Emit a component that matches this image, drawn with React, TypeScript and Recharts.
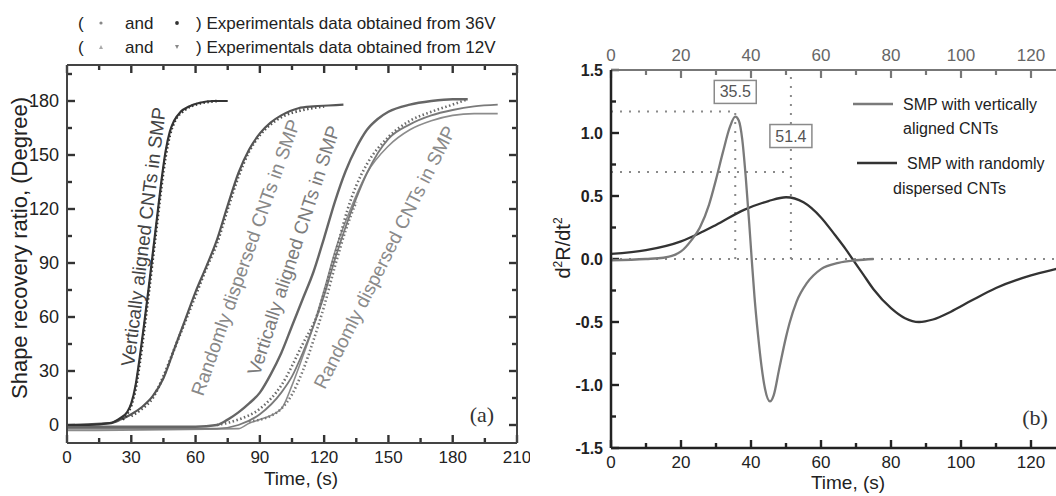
import React from 'react'
import { LineChart, Line, XAxis, YAxis, ReferenceLine, ReferenceDot } from 'recharts'

const SANS = '"Liberation Sans", Arial, sans-serif'
const SERIF = '"Liberation Serif", "Times New Roman", serif'

// ---------- panel (a): shape recovery ratio vs time ----------
const aXTicks = [0, 30, 60, 90, 120, 150, 180, 210]
const aXMinor = [15, 45, 75, 105, 135, 165, 195]
const aYTicks = [0, 30, 60, 90, 120, 150, 180]
const aYMinor = [15, 45, 75, 105, 135, 165, 195]

// vertically aligned CNTs, 36V
const va36Time = [0, 10, 20, 25, 28, 30, 32, 34, 36, 38, 40, 42, 44, 46, 48, 50, 53, 57, 62, 68, 75]
const va36Fit = [0, 0, 1, 4, 7, 12, 22, 38, 56, 75, 95, 115, 135, 152, 163, 169, 174, 177, 179, 180, 180]
const va36ExpTime = [26, 28, 30, 32, 34, 36, 38, 40, 42, 44, 46, 48, 50, 55, 60, 70]
const va36Exp = [3, 6, 11, 20, 35, 53, 72, 92, 112, 132, 149, 161, 168, 175, 178, 180]

// randomly dispersed CNTs, 36V
const rd36Time = [0, 20, 25, 30, 35, 40, 45, 50, 55, 60, 65, 70, 75, 80, 85, 90, 95, 100, 108, 115, 122, 129]
const rd36Fit = [0, 1, 3, 6, 10, 16, 26, 42, 58, 74, 88, 103, 122, 140, 153, 162, 168, 172, 176, 177, 177.5, 178]
const rd36ExpTime = [30, 35, 40, 45, 50, 55, 60, 65, 70, 75, 80, 85, 90, 95, 100, 110, 120]
const rd36Exp = [5, 9, 15, 27, 42, 57, 72, 87, 101, 120, 138, 152, 161, 167, 171, 175, 177]

// vertically aligned CNTs, 12V
const va12Time = [0, 60, 70, 75, 80, 85, 90, 95, 100, 105, 110, 115, 120, 125, 130, 135, 140, 145, 150, 160, 170, 180, 187]
const va12Fit = [-1, -1, 0, 3, 7, 12, 18, 28, 40, 55, 70, 85, 104, 124, 141, 154, 164, 170, 174, 178, 180, 181, 181]
const va12ExpTime = [70, 80, 90, 100, 110, 117, 122, 127, 131, 135, 140, 150, 160, 170, 180, 187]
const va12Exp = [0, 3, 9, 22, 45, 62, 82, 103, 120, 133, 145, 160, 169, 174, 178, 181]

// randomly dispersed CNTs, 12V (two runs)
const rd12aTime = [0, 70, 80, 90, 100, 105, 110, 115, 120, 125, 130, 135, 140, 145, 150, 160, 170, 180, 190, 201]
const rd12aFit = [-2, -2, 0, 6, 18, 27, 40, 55, 72, 92, 110, 126, 140, 151, 159, 167, 172, 175, 177, 178]
const rd12bTime = [0, 80, 85, 90, 100, 105, 110, 115, 120, 126, 132, 140, 150, 160, 170, 180, 190, 201]
const rd12bFit = [-3, -2, 1, 3, 9, 22, 38, 55, 75, 100, 119, 140, 155, 164, 169, 172, 173, 173]
const rd12ExpTime = [85, 95, 100, 105, 110, 115, 120, 125, 130, 135]
const rd12Exp = [2, 5, 9, 17, 30, 47, 66, 88, 108, 124]

// ---------- panel (b): second derivative ----------
const bXTicks = [0, 20, 40, 60, 80, 100, 120]
const bXMinor = [10, 30, 50, 70, 90, 110, 130]
const bYTicks = [-1.5, -1.0, -0.5, 0, 0.5, 1.0, 1.5]
const bYMinor = [-1.25, -0.75, -0.25, 0.25, 0.75, 1.25]

const vaTime = [0, 10, 15, 20, 23, 25.4, 28, 30, 32, 34, 35.5, 36.5, 37.5, 38.5, 39.5, 40.2, 41, 42, 43, 44, 45.4, 46.5, 48, 50, 51, 53, 56, 60, 65, 70, 75]
const vaD2 = [-0.01, 0, 0.01, 0.06, 0.15, 0.25, 0.43, 0.63, 0.85, 1.05, 1.13, 1.1, 0.95, 0.65, 0.28, 0, -0.3, -0.6, -0.85, -1.03, -1.13, -1.08, -0.88, -0.62, -0.51, -0.34, -0.19, -0.08, -0.03, -0.01, 0]
const rdTime = [0, 10, 20, 25, 30, 38, 45, 50, 55, 60, 64, 67, 69, 72, 75, 80, 84, 88, 92, 97, 103, 110, 120, 127, 130]
const rdD2 = [0.04, 0.07, 0.14, 0.2, 0.27, 0.39, 0.46, 0.49, 0.45, 0.33, 0.19, 0.08, 0, -0.12, -0.24, -0.39, -0.47, -0.5, -0.48, -0.42, -0.33, -0.23, -0.13, -0.08, -0.06]

const peakTimes = [35.5, 51.4]
const peakLevels = [1.17, 0.69]
const peakLabelY = [1.33, 0.98]

const pts = (ts: number[], vs: number[]) => ts.map((t, i) => ({ t, v: vs[i] }))

// label-only tick renderer
const makeLabel = (side: string, text: any, fmt?: (v: number) => string) => (p: any) => {
  const v = p.payload.value as number
  const txt = fmt ? fmt(v) : String(v)
  if (side === 'bottom') return <text x={p.x} y={p.y} dy="0.71em" textAnchor="middle" {...text}>{txt}</text>
  if (side === 'top') return <text x={p.x} y={p.y} textAnchor="middle" {...text}>{txt}</text>
  return <text x={p.x} y={p.y} dy="0.35em" textAnchor="end" {...text}>{txt}</text>
}

// inward tick marks as short reference segments; lengths converted from px to data units
type Seg = { key: string; seg: { x: number; y: number }[] }
const tickSegs = (
  xMaj: number[], xMin: number[], yMaj: number[], yMin: number[],
  xDom: number[], yDom: number[], plotW: number, plotH: number, sides: string[],
): Seg[] => {
  const ux = (xDom[1] - xDom[0]) / plotW
  const uy = (yDom[1] - yDom[0]) / plotH
  const out: Seg[] = []
  const xs = [...xMaj.map((t) => [t, 8]), ...xMin.map((t) => [t, 5])]
  const ys = [...yMaj.map((v) => [v, 8]), ...yMin.map((v) => [v, 5])]
  xs.forEach(([t, len]) => {
    if (sides.includes('bottom')) out.push({ key: `b${t}`, seg: [{ x: t, y: yDom[0] }, { x: t, y: yDom[0] + len * uy }] })
    if (sides.includes('top')) out.push({ key: `t${t}`, seg: [{ x: t, y: yDom[1] }, { x: t, y: yDom[1] - len * uy }] })
  })
  ys.forEach(([v, len]) => {
    if (sides.includes('left')) out.push({ key: `l${v}`, seg: [{ x: xDom[0], y: v }, { x: xDom[0] + len * ux, y: v }] })
    if (sides.includes('right')) out.push({ key: `r${v}`, seg: [{ x: xDom[1], y: v }, { x: xDom[1] - len * ux, y: v }] })
  })
  return out
}

function PanelA() {
  const ax = { xAxisId: 'x', yAxisId: 'y' }
  const dots = { type: 'monotone' as const, dot: false, isAnimationActive: false, dataKey: 'v', ...ax }
  const border = { stroke: '#444', strokeWidth: 2 }
  const lab = { fill: '#222', fontSize: 17, fontFamily: SANS }
  const xDom = [0, 210]
  const yDom = [-10, 200]
  const xs = { type: 'number' as const, dataKey: 't', domain: xDom, interval: 0 as const, allowDataOverflow: true, ticks: aXTicks, tickLine: false, axisLine: border }
  const ys = { type: 'number' as const, domain: yDom, interval: 0 as const, allowDataOverflow: true, ticks: aYTicks, tickLine: false, axisLine: border }
  const segs = tickSegs(aXTicks, aXMinor, aYTicks, aYMinor, xDom, yDom, 450, 378, ['bottom', 'top', 'left', 'right'])
  return (
    <LineChart width={530} height={496} margin={{ top: 65, right: 13, bottom: 3, left: 0 }} data={pts(va36Time, va36Fit)}>
      <XAxis xAxisId="x" {...xs} height={50} tickSize={0} tickMargin={8} tick={makeLabel('bottom', lab)} />
      <XAxis xAxisId="xt" {...xs} mirror orientation="top" tickSize={0} tickMargin={0} tick={false} />
      <YAxis yAxisId="y" {...ys} width={67} tickSize={0} tickMargin={8} tick={makeLabel('left', { ...lab, fontSize: 18 })} />
      <YAxis yAxisId="yr" {...ys} mirror orientation="right" tickSize={0} tickMargin={0} tick={false} />

      {segs.map((s) => (
        <ReferenceLine key={s.key} {...ax} segment={s.seg} stroke="#333" strokeWidth={2.4} />
      ))}

      <Line {...dots} data={pts(rd12bTime, rd12bFit)} stroke="#8c8c8c" strokeWidth={1.6} />
      <Line {...dots} data={pts(rd12aTime, rd12aFit)} stroke="#7a7a7a" strokeWidth={1.8} />
      <Line {...dots} data={pts(rd12ExpTime, rd12Exp)} stroke="#777" strokeWidth={2.6} strokeDasharray="1.5 2.5" />
      <Line {...dots} data={pts(va12ExpTime, va12Exp)} stroke="#6a6a6a" strokeWidth={2.6} strokeDasharray="1.5 2.5" />
      <Line {...dots} data={pts(va12Time, va12Fit)} stroke="#666" strokeWidth={2.4} />
      <Line {...dots} data={pts(rd36ExpTime, rd36Exp)} stroke="#555" strokeWidth={2.8} strokeDasharray="1.5 2.5" />
      <Line {...dots} data={pts(rd36Time, rd36Fit)} stroke="#555" strokeWidth={2.2} />
      <Line {...dots} data={pts(va36ExpTime, va36Exp)} stroke="#333" strokeWidth={2.8} strokeDasharray="1.5 2.5" />
      <Line {...dots} data={pts(va36Time, va36Fit)} stroke="#333" strokeWidth={2.2} />
    </LineChart>
  )
}

function PanelB() {
  const ax = { xAxisId: 'x', yAxisId: 'y' }
  const dark = { stroke: '#222', strokeWidth: 2.5 }
  const dotted = { stroke: '#8a8a8a', strokeWidth: 2, strokeDasharray: '2 7' }
  const lab = { fill: '#222', fontSize: 17, fontFamily: SANS }
  const xDom = [0, 130]
  const yDom = [-1.5, 1.5]
  const xs = { type: 'number' as const, dataKey: 't', domain: xDom, interval: 0 as const, allowDataOverflow: true, ticks: bXTicks, tickLine: false }
  const segsDark = tickSegs(bXTicks, bXMinor, bYTicks, bYMinor, xDom, yDom, 455, 378, ['bottom', 'left'])
  const segsGray = tickSegs(bXTicks, bXMinor, [], [], xDom, yDom, 455, 378, ['top'])
  const box = (label: string) => (p: any) => (
    <g>
      <rect x={p.cx - 21} y={p.cy - 11} width={42} height={23} fill="#fff" stroke="#8a8a8a" strokeWidth={1.5} />
      <text x={p.cx} y={p.cy + 6} textAnchor="middle" fontSize={16} fill="#555" fontFamily={SANS}>{label}</text>
    </g>
  )
  return (
    <LineChart width={546} height={496} margin={{ top: 50, right: 10, bottom: 3, left: 0 }} data={pts(rdTime, rdD2)}>
      <XAxis xAxisId="x" {...xs} height={45} tickSize={0} tickMargin={8} axisLine={dark} tick={makeLabel('bottom', lab)} />
      <XAxis xAxisId="xt" {...xs} orientation="top" height={20} tickSize={0} tickMargin={9}
        axisLine={{ stroke: '#777', strokeWidth: 2 }} tick={makeLabel('top', { ...lab, fill: '#666' })} />
      <YAxis yAxisId="y" type="number" domain={yDom} allowDataOverflow interval={0} ticks={bYTicks} width={81}
        tickLine={false} axisLine={dark} tickSize={0} tickMargin={8}
        tick={makeLabel('left', { ...lab, fontSize: 16, fontWeight: 'bold' }, (v) => v.toFixed(1))} />

      {segsDark.map((s) => (
        <ReferenceLine key={s.key} {...ax} segment={s.seg} stroke="#222" strokeWidth={2.4} />
      ))}
      {segsGray.map((s) => (
        <ReferenceLine key={s.key} {...ax} segment={s.seg} stroke="#777" strokeWidth={2.2} />
      ))}

      <ReferenceLine {...ax} y={0} {...dotted} />
      <ReferenceLine {...ax} segment={[{ x: 0, y: peakLevels[0] }, { x: peakTimes[0], y: peakLevels[0] }]} {...dotted} />
      <ReferenceLine {...ax} segment={[{ x: 0, y: peakLevels[1] }, { x: peakTimes[1], y: peakLevels[1] }]} {...dotted} />
      <ReferenceLine {...ax} segment={[{ x: peakTimes[0], y: 0 }, { x: peakTimes[0], y: peakLevels[0] }]} {...dotted} />
      <ReferenceLine {...ax} segment={[{ x: peakTimes[1], y: 0 }, { x: peakTimes[1], y: 1.5 }]} {...dotted} />

      <Line {...ax} type="monotone" data={pts(rdTime, rdD2)} dataKey="v" dot={false} stroke="#333" strokeWidth={2.3} isAnimationActive={false} />
      <Line {...ax} type="monotone" data={pts(vaTime, vaD2)} dataKey="v" dot={false} stroke="#7a7a7a" strokeWidth={2.3} isAnimationActive={false} />

      <ReferenceDot {...ax} x={peakTimes[0]} y={peakLabelY[0]} r={0} shape={box(peakTimes[0].toFixed(1))} />
      <ReferenceDot {...ax} x={peakTimes[1]} y={peakLabelY[1]} r={0} shape={box(peakTimes[1].toFixed(1))} />
    </LineChart>
  )
}

function Overlay() {
  const rot = (cx: number, cy: number, a: number) => `translate(${cx},${cy}) rotate(${-a})`
  const lbl = { fontSize: 19, textAnchor: 'middle' as const, dominantBaseline: 'middle' as const }
  return (
    <svg width={1056} height={496} style={{ position: 'absolute', left: 0, top: 0, pointerEvents: 'none' }} fontFamily={SANS}>
      {/* header */}
      <g fontSize={17} fill="#222">
        <text x={78} y={29}>(</text>
        <circle cx={101} cy={23} r={1.6} fill="#888" />
        <text x={125} y={29}>and</text>
        <circle cx={177} cy={23} r={1.9} fill="#333" />
        <text x={196} y={29}>) Experimentals data obtained from 36V</text>
        <text x={78} y={53}>(</text>
        <path d="M99,49 L101,45 L103,49 Z" fill="#aaa" />
        <text x={125} y={53}>and</text>
        <path d="M175,45 L177,49 L179,45 Z" fill="#888" />
        <text x={196} y={53}>) Experimentals data obtained from 12V</text>
      </g>

      {/* panel a */}
      <text transform="translate(27,248) rotate(-90)" textAnchor="middle" fontSize={22} fill="#222">Shape recovery ratio, (Degree)</text>
      <text x={301} y={485} textAnchor="middle" fontSize={19} fill="#222">Time, (s)</text>
      <text x={482} y={422} textAnchor="middle" fontSize={22} fill="#333" fontFamily={SERIF}>(a)</text>
      <text transform={rot(145, 237, 83)} {...lbl} fill="#444">Vertically aligned CNTs in SMP</text>
      <text transform={rot(247, 258, 70.5)} {...lbl} fill="#888">Randomly dispersed CNTs in SMP</text>
      <text transform={rot(295, 251, 72)} {...lbl} fill="#7c7c7c">Vertically aligned CNTs in SMP</text>
      <text transform={rot(386, 258, 63.2)} {...lbl} fill="#8a8a8a">Randomly dispersed CNTs in SMP</text>

      {/* panel b */}
      <text transform="translate(570,248) rotate(-90)" textAnchor="middle" fontSize={20} fill="#222">
        d<tspan fontSize={12} dy={-8}>2</tspan><tspan dy={8}>R/dt</tspan><tspan fontSize={12} dy={-8}>2</tspan>
      </text>
      <text x={848} y={489} textAnchor="middle" fontSize={19} fill="#222">Time, (s)</text>
      <text x={1035} y={425} textAnchor="middle" fontSize={22} fill="#333" fontFamily={SERIF}>(b)</text>

      {/* legend */}
      <g fontSize={16} fill="#222">
        <line x1={853} y1={104} x2={893} y2={104} stroke="#7a7a7a" strokeWidth={2.3} />
        <text x={903} y={110}>SMP with vertically</text>
        <text x={903} y={134}>aligned CNTs</text>
        <line x1={857} y1={163} x2={897} y2={163} stroke="#333" strokeWidth={2.3} />
        <text x={907} y={169}>SMP with randomly</text>
        <text x={893} y={194}>dispersed CNTs</text>
      </g>
    </svg>
  )
}

export default function App() {
  return (
    <div style={{ position: 'fixed', left: 0, top: 0, width: 1056, height: 496, overflow: 'hidden', background: '#fff' }}>
      <Overlay />
      <div style={{ position: 'absolute', left: 0, top: 0 }}>
        <PanelA />
      </div>
      <div style={{ position: 'absolute', left: 530, top: 0 }}>
        <PanelB />
      </div>
    </div>
  )
}
